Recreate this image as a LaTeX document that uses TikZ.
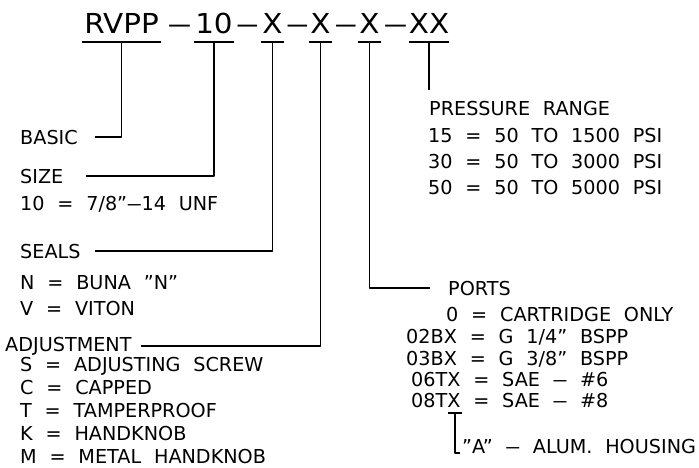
\documentclass[tikz,border=0pt]{standalone}
\usepackage{fontspec}
\setmainfont{DejaVu Sans}[WordSpace=2.1]
\usepackage{tikz}
\usetikzlibrary{calc}
\newcommand\ldash{\scalebox{0.75}[1]{---}}

\begin{document}
\begin{tikzpicture}[x=1pt,y=-1pt,line join=round,
  hdr/.style={anchor=base,inner xsep=1pt,inner ysep=0pt,font=\fontsize{27.5}{30}\selectfont\addfontfeature{FakeStretch=1.07}},
  dsh/.style={anchor=base,inner sep=0pt,font=\fontsize{27}{30}\selectfont},
  txt/.style={anchor=base west,inner sep=0pt,font=\fontsize{19.2}{21}\selectfont},
  lead/.style={line width=1.8pt}]
  \useasboundingbox (0,0) rectangle (699,467);
  \node[hdr,inner xsep=2.5pt] (rvpp) at (121.5,33) {RVPP};
  \node[dsh] (d1) at (179.5,33) {\scalebox{0.85}[1]{---}};
  \node[hdr] (ten) at (214,33) {10};
  \node[dsh] (d2) at (247.5,33) {\scalebox{0.8}[1]{---}};
  \node[hdr] (xa) at (272.5,33) {X};
  \node[dsh] (d3) at (297.5,33) {\scalebox{0.8}[1]{---}};
  \node[hdr] (xb) at (320.5,33) {X};
  \node[dsh] (d4) at (346,33) {\scalebox{0.8}[1]{---}};
  \node[hdr] (xc) at (369.5,33) {X};
  \node[dsh] (d5) at (395.5,33) {\scalebox{0.85}[1]{---}};
  \node[hdr,inner xsep=0pt] (xx) at (429,33) {XX};
  \coordinate (xxEnd) at (429,90);
  \node[txt] (basic) at (20,144) {BASIC};
  \node[txt] (size) at (20,183) {SIZE};
  \node[txt] (size10) at (20,210) {10 = 7/8”\ldash14 UNF};
  \node[txt] (seals) at (20,258) {SEALS};
  \node[txt] (sealN) at (20,289) {N = BUNA ”N”};
  \node[txt] (sealV) at (20,315) {V = VITON};
  \node[txt] (adj) at (5,351) {ADJUSTMENT};
  \node[txt] (adjS) at (20,371) {S = ADJUSTING SCREW};
  \node[txt] (adjC) at (20,394) {C = CAPPED};
  \node[txt] (adjT) at (20,417) {T = TAMPERPROOF};
  \node[txt] (adjK) at (20,440) {K = HANDKNOB};
  \node[txt] (adjM) at (20,463) {M = METAL HANDKNOB};
  \node[txt] (press) at (429,115) {PRESSURE RANGE};
  \node[txt] (press15) at (428,142) {15 = 50 TO 1500 PSI};
  \node[txt] (press30) at (428,168) {30 = 50 TO 3000 PSI};
  \node[txt] (press50) at (428,194) {50 = 50 TO 5000 PSI};
  \node[txt] (ports) at (448,295) {PORTS};
  \node[txt] (port0) at (446,321) {0 = CARTRIDGE ONLY};
  \node[txt] (port02) at (406,343) {02BX = G 1/4” BSPP};
  \node[txt] (port03) at (406,365) {03BX = G 3/8” BSPP};
  \node[txt] (port06) at (411,386) {06TX = SAE \ldash{} \#6};
  \node[txt] (port08) at (411,407) {08TX = SAE \ldash{} \#8};
  \node[txt] (alum) at (462,453) {”A” \ldash{} ALUM. HOUSING};
  \coordinate (aTop) at (455,413);
  \foreach \n in {rvpp,ten,xa,xb,xc,xx}
    \draw[lead] ([yshift=-9pt]\n.base west) -- ([yshift=-9pt]\n.base east)
      coordinate[pos=0.5] (t\n);
  \draw[lead] (448,413) -- (462,413);
  \draw[lead] (trvpp) |- ([xshift=17pt]basic.east);
  \draw[lead] (tten) |- ([xshift=22pt]size.east);
  \draw[lead] (txa) |- ([xshift=14pt]seals.east);
  \draw[lead] (txb) |- ([xshift=9pt]adj.east);
  \draw[lead] (txc) |- ([xshift=-18pt]ports.west);
  \draw[lead] (txx) -- (xxEnd);
  \draw[lead] (aTop) |- ([xshift=-2pt]alum.base west);
\end{tikzpicture}
\end{document}
